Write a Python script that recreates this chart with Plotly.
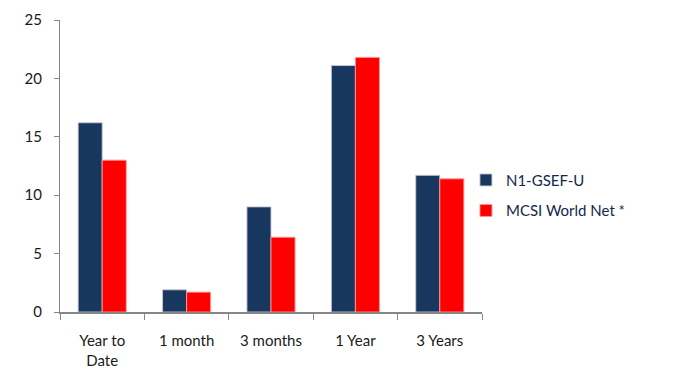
import plotly.graph_objects as go

categories = ["Year to<br>Date", "1 month", "3 months", "1 Year", "3 Years"]
fund_values = [16.2, 1.9, 9.0, 21.1, 11.7]
index_values = [13.0, 1.7, 6.4, 21.8, 11.4]
series_names = ["N1-GSEF-U", "MCSI World Net *"]
y_ticks = [0, 5, 10, 15, 20, 25]

FONT = "Lato, 'Open Sans', sans-serif"
TEXT = "#1a1a1a"
AXIS = "#868686"

fig = go.Figure()
fig.add_trace(go.Bar(x=categories, y=fund_values, name=series_names[0], legendgroup="a",
                     marker=dict(color="#17375E", line=dict(color="rgba(200,200,210,0.9)", width=1))))
fig.add_trace(go.Bar(x=categories, y=index_values, name=series_names[1], legendgroup="b",
                     marker=dict(color="#FF0000", line=dict(color="rgba(255,150,150,0.9)", width=1))))

# page body adds an 8px offset, so the figure is 8px smaller on each axis
fig.update_layout(
    width=688, height=364,
    margin=dict(l=52, r=214, t=12, b=60, autoexpand=False),
    paper_bgcolor="white", plot_bgcolor="white",
    barmode="group", bargap=0.43, bargroupgap=0,
    font=dict(family=FONT, size=15, color=TEXT),
    legend=dict(x=0.962, y=0.40, xanchor="left", yanchor="middle",
                font=dict(family=FONT, size=15, color="#14284a"),
                tracegroupgap=8, itemwidth=30),
    showlegend=True,
)
fig.update_xaxes(type="category", showline=True, linecolor=AXIS, linewidth=2,
                 ticks="outside", ticklen=6, tickcolor=AXIS, tickwidth=1, automargin=False,
                 tickson="boundaries", showgrid=False, ticklabelstandoff=14)
fig.update_yaxes(range=[0, 25], tickvals=y_ticks, showline=True, linecolor=AXIS, linewidth=1,
                 ticks="outside", ticklen=5, tickcolor=AXIS, showgrid=False, zeroline=False,
                 automargin=False, ticklabelstandoff=9)

fig.write_html("out.html")
